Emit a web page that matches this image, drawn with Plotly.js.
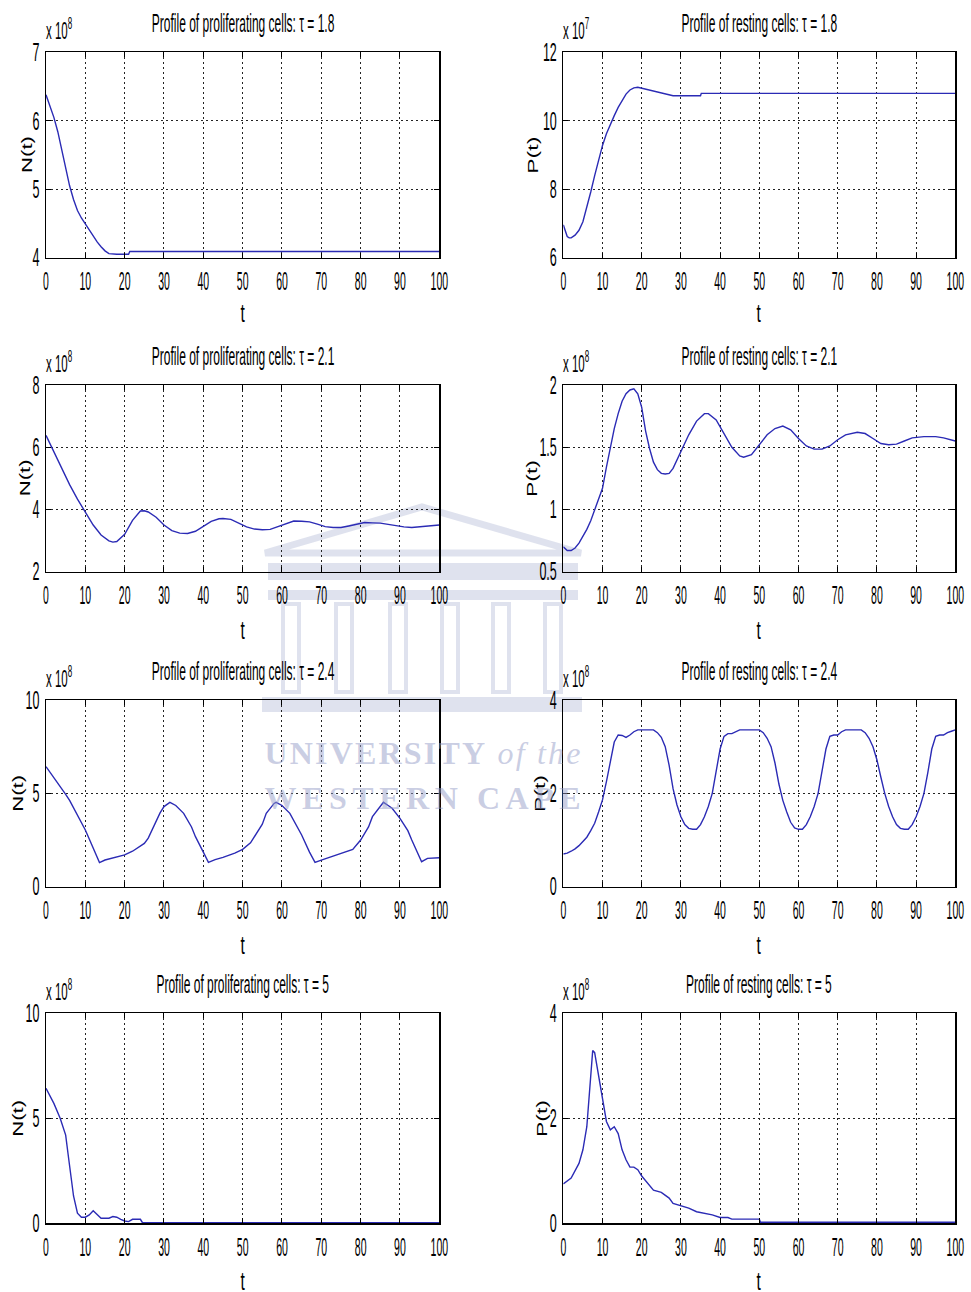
<!DOCTYPE html>
<html>
<head>
<meta charset="utf-8">
<script src="https://cdn.plot.ly/plotly-3.0.1.min.js"></script>
<style>
  html, body { margin: 0; padding: 0; background: #fff; }
  #chart { width: 971px; height: 1292px; }
</style>
</head>
<body>
<div id="chart"></div>
<script>
// ---- Profiles of proliferating N(t) and resting P(t) cells for four delays tau ----
// Values are in units of the axis multiplier shown above each panel (x 10^8 or x 10^7).

const xTicks = [0, 10, 20, 30, 40, 50, 60, 70, 80, 90, 100];

// tau = 1.8, proliferating (x 10^8)
const tN18 = [0,1,2,3,4,5,6,7,8,9,10,11,12,13,14,15,16,17,18,19,20,21,21.3,30,40,50,60,70,80,90,100];
const N18  = [6.38,6.22,6.05,5.84,5.59,5.31,5.05,4.85,4.69,4.58,4.49,4.40,4.32,4.23,4.16,4.10,4.06,4.05,4.05,4.05,4.05,4.05,4.09,4.09,4.09,4.09,4.09,4.09,4.09,4.09,4.09];
const yTicksN18 = [4, 5, 6, 7];

// tau = 1.8, resting (x 10^7)
const tP18 = [0,0.5,1,1.5,2,3,4,5,6,7,8,9,10,11,12,13,14,15,16,17,18,19,20,22,24,26,28,30,35,35.2,40,50,60,70,80,90,100];
const P18  = [6.96,6.75,6.62,6.58,6.58,6.66,6.8,7.05,7.45,7.92,8.4,8.86,9.28,9.62,9.9,10.15,10.39,10.6,10.78,10.9,10.96,10.98,10.95,10.9,10.83,10.77,10.73,10.73,10.73,10.8,10.8,10.8,10.8,10.8,10.8,10.8,10.8];
const yTicksP18 = [6, 8, 10, 12];

// tau = 2.1, proliferating (x 10^8)
const tN21 = [0,2,4,6,8,10,12,14,16,17,18,20,22,24,25,26,28,30,32,34,36,38,40,42,44,45,47,49,51,53,55,57,59,61,63,65,67,69,71,73,75,77,79,81,83,85,87,89,91,93,95,97,100];
const N21  = [6.38,5.85,5.3,4.8,4.33,3.9,3.5,3.18,2.99,2.95,2.97,3.2,3.65,3.95,3.96,3.92,3.75,3.5,3.32,3.24,3.23,3.3,3.45,3.62,3.7,3.71,3.68,3.57,3.44,3.37,3.35,3.36,3.45,3.55,3.63,3.62,3.6,3.53,3.45,3.42,3.42,3.47,3.53,3.58,3.57,3.56,3.52,3.47,3.44,3.42,3.44,3.48,3.5];
const yTicksN21 = [2, 4, 6, 8];

// tau = 2.1, resting (x 10^8)
const tP21 = [0,1,2,3,4,5,6,7,8,9,10,11,12,13,14,15,16,17,18,19,20,21,22,23,24,25,26,27,28,30,32,34,36,37,39,41,43,45,46,48,50,52,54,56,58,60,62,64,66,68,70,72,75,77,79,81,83,85,87,89,92,95,97,100];
const P21  = [0.70,0.67,0.67,0.69,0.73,0.78,0.84,0.91,1.0,1.08,1.17,1.34,1.51,1.65,1.77,1.87,1.93,1.96,1.97,1.93,1.82,1.63,1.49,1.38,1.32,1.29,1.285,1.29,1.33,1.46,1.6,1.71,1.77,1.77,1.72,1.61,1.5,1.43,1.42,1.44,1.52,1.6,1.65,1.67,1.64,1.57,1.51,1.485,1.485,1.51,1.56,1.6,1.62,1.61,1.57,1.53,1.52,1.525,1.55,1.575,1.585,1.585,1.575,1.55];
const yTicksP21 = [0.5, 1, 1.5, 2];

// tau = 2.4, proliferating (x 10^8)
const tN24 = [0,2,4,5,6,8,10,11,12,13,13.6,15,17,20,22,25,26,27,28,29,30,31.5,33,35,37,38,40,41.3,43,45,48,50,52,53,55,56,58,58.5,60,62,64,65,67,68.4,70,72,75,78,80,82,83,85,85.8,87,88,90,92,93,95.5,97,100];
const N24  = [6.43,5.85,5.25,4.95,4.62,3.85,3.04,2.55,2.07,1.58,1.29,1.43,1.55,1.7,1.9,2.32,2.6,3.05,3.57,3.95,4.29,4.52,4.35,3.93,3.2,2.68,1.85,1.3,1.45,1.57,1.8,2.0,2.35,2.68,3.35,3.93,4.46,4.52,4.35,3.93,3.2,2.77,1.85,1.3,1.42,1.57,1.8,2.0,2.5,3.2,3.75,4.35,4.52,4.35,4.2,3.66,3.0,2.5,1.34,1.52,1.55];
const yTicksN24 = [0, 5, 10];

// tau = 2.4, resting (x 10^8)
const tP24 = [0,1,2,3,4,5,6,7,8,9,10,11,12,13,14,15,16,17,18,19,20,21,22,23,24,25,26,27,28,29,30,31,32,33,34,35,36,37,38,39,40,41,42,43,44,45,46,47,48,49,50,51,52,53,54,55,56,57,58,59,60,61,62,63,64,65,66,67,68,69,70,71,72,73,74,75,76,77,78,79,80,81,82,83,84,85,86,87,88,89,90,91,92,93,94,95,96,97,98,99,100];
const P24  = [0.70,0.72,0.76,0.81,0.88,0.96,1.06,1.2,1.36,1.6,1.86,2.25,2.71,3.1,3.25,3.24,3.2,3.25,3.32,3.36,3.36,3.36,3.36,3.36,3.3,3.2,3.0,2.6,2.1,1.75,1.5,1.33,1.25,1.23,1.23,1.33,1.5,1.72,2.0,2.45,2.95,3.22,3.28,3.28,3.32,3.36,3.36,3.36,3.36,3.36,3.36,3.3,3.18,3.0,2.65,2.2,1.85,1.6,1.38,1.26,1.23,1.23,1.33,1.5,1.72,2.0,2.45,2.95,3.22,3.25,3.25,3.32,3.36,3.36,3.36,3.36,3.36,3.3,3.18,3.0,2.72,2.35,2.0,1.72,1.5,1.33,1.25,1.23,1.23,1.33,1.5,1.72,2.0,2.45,2.95,3.22,3.25,3.25,3.3,3.33,3.36];
const yTicksP24 = [0, 2, 4];

// tau = 5, proliferating (x 10^8)
const tN5 = [0,2,3.6,5,5.7,7,8,9,10,11,12,13,14,15,16,17,18,19,20,21,22,24,24.5,30,40,50,60,70,80,90,100];
const N5  = [6.43,5.71,5.0,4.2,3.17,1.3,0.48,0.29,0.29,0.4,0.6,0.4,0.24,0.24,0.24,0.32,0.29,0.19,0.11,0.08,0.19,0.19,0.04,0.03,0.03,0.03,0.03,0.03,0.03,0.03,0.03];
const yTicksN5 = [0, 5, 10];

// tau = 5, resting (x 10^8)
const tP5 = [0,2,4,5,6,7,7.5,8,9,10,11,12,13,14,15,16,17,18,19,20,22,23,25,27,28,30,32,34,36,38,40,42,43,50,50.3,60,70,80,90,100];
const P5  = [0.75,0.86,1.14,1.4,1.84,2.92,3.29,3.25,2.79,2.41,1.94,1.78,1.84,1.71,1.4,1.21,1.07,1.07,1.02,0.9,0.73,0.63,0.59,0.48,0.38,0.34,0.29,0.22,0.19,0.16,0.11,0.11,0.08,0.08,0.02,0.02,0.02,0.02,0.02,0.02];
const yTicksP5 = [0, 2, 4];

const panels = [
  { t: tN18, v: N18, yt: yTicksN18, title: 'Profile of proliferating cells: τ = 1.8', ylab: 'N(t)', exp: 8 },
  { t: tP18, v: P18, yt: yTicksP18, title: 'Profile of resting cells: τ = 1.8',       ylab: 'P(t)', exp: 7 },
  { t: tN21, v: N21, yt: yTicksN21, title: 'Profile of proliferating cells: τ = 2.1', ylab: 'N(t)', exp: 8 },
  { t: tP21, v: P21, yt: yTicksP21, title: 'Profile of resting cells: τ = 2.1',       ylab: 'P(t)', exp: 8 },
  { t: tN24, v: N24, yt: yTicksN24, title: 'Profile of proliferating cells: τ = 2.4', ylab: 'N(t)', exp: 8 },
  { t: tP24, v: P24, yt: yTicksP24, title: 'Profile of resting cells: τ = 2.4',       ylab: 'P(t)', exp: 8 },
  { t: tN5,  v: N5,  yt: yTicksN5,  title: 'Profile of proliferating cells: τ = 5',   ylab: 'N(t)', exp: 8 },
  { t: tP5,  v: P5,  yt: yTicksP5,  title: 'Profile of resting cells: τ = 5',         ylab: 'P(t)', exp: 8 }
];

// ---- page geometry (pixels) ----
const W = 971, H = 1292;
const COLS = [[46, 439.3], [563.3, 955.3]];
const ROWS = [[52.3, 257.7], [385, 571.7], [700, 886.7], [1013.3, 1223.3]];
const YLAB_OFF = [[20, 31], [22, 32], [28.5, 24], [28.5, 22]];
const XLAB_OFF = [55.5, 58, 58, 58];

const FONT = 'Liberation Sans, Arial, Helvetica, sans-serif';
const LINE = '#2b2bb5';

const px = x => x / W;
const py = y => 1 - y / H;

const data = [];
const annotations = [];
const layout = {
  width: W, height: H,
  margin: { l: 0, r: 0, t: 0, b: 0 },
  paper_bgcolor: '#ffffff',
  plot_bgcolor: '#ffffff',
  showlegend: false,
  font: { family: FONT, color: '#000' },
  annotations: annotations,
  shapes: []
};

panels.forEach((p, i) => {
  const row = Math.floor(i / 2), col = i % 2;
  const n = i === 0 ? '' : String(i + 1);
  const xid = 'x' + n, yid = 'y' + n;

  data.push({
    type: 'scatter', mode: 'lines',
    x: p.t, y: p.v,
    xaxis: xid, yaxis: yid,
    line: { color: LINE, width: 1.4 },
    hoverinfo: 'skip'
  });

  const common = {
    showline: true, linecolor: '#000', linewidth: 1.5, mirror: 'ticks',
    ticks: 'inside', ticklen: 5, tickwidth: 1, tickcolor: '#000',
    showgrid: true, gridcolor: '#222', gridwidth: 1, griddash: '2px,3px',
    zeroline: false, fixedrange: true, automargin: false, tickangle: 0,
    ticklabeloverflow: 'allow',
    tickfont: { family: FONT, size: 25, color: '#000' }
  };

  layout['xaxis' + n] = Object.assign({}, common, {
    domain: [px(COLS[col][0]), px(COLS[col][1])],
    anchor: yid,
    range: [0, 100],
    tickmode: 'array', tickvals: xTicks, ticktext: xTicks.map(String),
    ticklabelstandoff: 1
  });
  layout['yaxis' + n] = Object.assign({}, common, {
    domain: [py(ROWS[row][1]), py(ROWS[row][0])],
    anchor: xid,
    range: [p.yt[0], p.yt[p.yt.length - 1]],
    tickmode: 'array', tickvals: p.yt, ticktext: p.yt.map(String),
    ticklabelstandoff: 0
  });

  // panel title
  annotations.push({
    text: p.title, showarrow: false,
    xref: xid + ' domain', yref: yid + ' domain', x: 0.5, y: 1,
    xanchor: 'center', yanchor: 'middle', yshift: 29,
    font: { family: FONT, size: 25, color: '#000' }
  });
  // x label
  annotations.push({
    text: 't', showarrow: false,
    xref: xid + ' domain', yref: yid + ' domain', x: 0.5, y: 0,
    xanchor: 'center', yanchor: 'middle', yshift: -XLAB_OFF[row],
    font: { family: FONT, size: 26, color: '#000' }
  });
  // y label
  annotations.push({
    text: p.ylab, showarrow: false, textangle: -90,
    xref: xid + ' domain', yref: yid + ' domain', x: 0, y: 0.5,
    xanchor: 'center', yanchor: 'middle', xshift: -YLAB_OFF[row][col],
    font: { family: FONT, size: 15, color: '#000' }
  });
  // axis multiplier
  annotations.push({
    text: 'x 10<sup>' + p.exp + '</sup>', showarrow: false, align: 'left',
    xref: xid + ' domain', yref: yid + ' domain', x: 0, y: 1,
    xanchor: 'left', yanchor: 'bottom', yshift: 6, xshift: -2,
    font: { family: FONT, size: 23, color: '#000' }
  });
});

// ---- faint institutional watermark ----
const WM = 'rgba(150,158,200,0.3)';
const WM_TXT = 'rgba(150,158,200,0.5)';
annotations.push({
  text: '<b>UNIVERSITY</b> <i>of the</i>', showarrow: false,
  xref: 'paper', yref: 'paper', x: px(422), y: py(753),
  xanchor: 'center', yanchor: 'middle',
  font: { family: 'Liberation Serif, DejaVu Serif, serif', size: 32, color: WM_TXT }
});
annotations.push({
  text: '<b>WESTERN CAPE</b>', showarrow: false,
  xref: 'paper', yref: 'paper', x: px(422), y: py(798),
  xanchor: 'center', yanchor: 'middle',
  font: { family: 'Liberation Serif, DejaVu Serif, serif', size: 32, color: WM_TXT }
});
const wmShapes = [];
wmShapes.push({ type: 'path', _pts: [[265, 553], [422, 507], [581, 553]], line: { color: WM, width: 7 } });
wmShapes.push({ type: 'rect', x0: 268, x1: 578, y0: 563, y1: 580 });
wmShapes.push({ type: 'rect', x0: 268, x1: 578, y0: 590, y1: 600 });
[283, 336, 390, 442, 493, 545].forEach(c => wmShapes.push({ type: 'rect', x0: c, x1: c + 16, y0: 604, y1: 692, outline: true }));
wmShapes.push({ type: 'rect', x0: 262, x1: 582, y0: 697, y1: 712 });
wmShapes.forEach(s => {
  if (s.type === 'path') {
    const d = s._pts.map((q, k) => (k ? 'L' : 'M') + px(q[0]) + ',' + py(q[1])).join(' ') + ' Z';
    layout.shapes.push({ type: 'path', xref: 'paper', yref: 'paper', path: d, line: s.line, layer: 'below' });
  } else {
    layout.shapes.push({
      type: 'rect', xref: 'paper', yref: 'paper', layer: 'below',
      x0: px(s.x0), x1: px(s.x1), y0: py(s.y1), y1: py(s.y0),
      fillcolor: s.outline ? 'rgba(0,0,0,0)' : WM,
      line: { color: WM, width: s.outline ? 4 : 0 }
    });
  }
});

// ---- condensed glyph rendering for all labels ----
function condense(gd) {
  const fit = (el, len, mode) => {
    el.setAttribute('textLength', len.toFixed(1));
    el.setAttribute('lengthAdjust', mode || 'spacingAndGlyphs');
  };
  gd.querySelectorAll('.xaxislayer-above text').forEach(el => fit(el, el.getComputedTextLength() * 0.42));
  gd.querySelectorAll('.yaxislayer-above text').forEach(el => fit(el, el.getComputedTextLength() * 0.5));
  gd.querySelectorAll('text.annotation-text').forEach(el => {
    const s = el.textContent;
    const w = el.getComputedTextLength();
    if (s.startsWith('Profile')) fit(el, w * 0.48);
    else if (s === 't') fit(el, w * 0.6);
    else if (s === 'N(t)' || s === 'P(t)') fit(el, 37);
    else if (s.startsWith('x 10')) fit(el, w * 0.5);
    else if (s.startsWith('UNIVERSITY') || s.startsWith('WESTERN')) fit(el, 316, 'spacing');
  });
}

Plotly.newPlot('chart', data, layout, { staticPlot: true, displayModeBar: false })
  .then(condense);
</script>
</body>
</html>
